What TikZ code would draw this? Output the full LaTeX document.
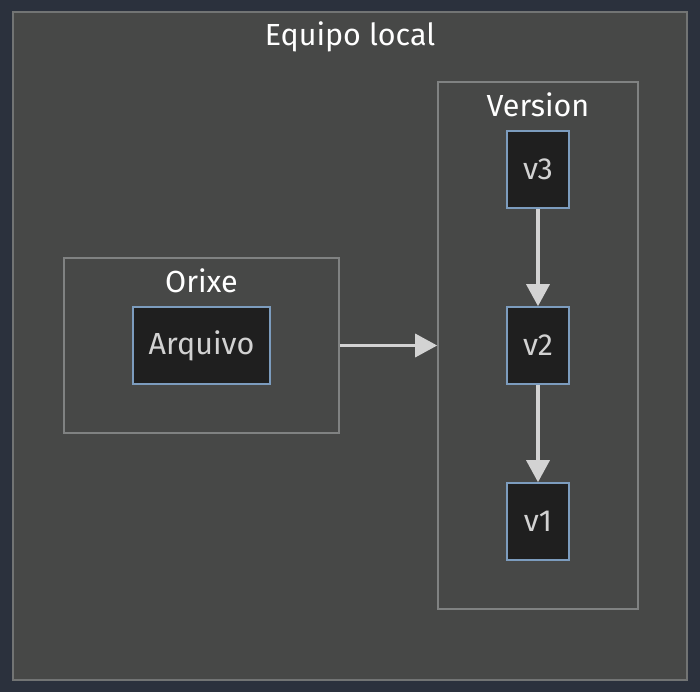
\documentclass[tikz,border=0pt]{standalone}
\usepackage{fontspec}
\setmainfont{Fira Sans}
\usetikzlibrary{arrows.meta}

\definecolor{bgnavy}{HTML}{2B313D}
\definecolor{clfill}{HTML}{474847}
\definecolor{clline}{HTML}{727474}
\definecolor{nodefill}{HTML}{1F1F1F}
\definecolor{nodeline}{HTML}{7C9CBE}
\definecolor{nodetext}{HTML}{D2D2D2}
\definecolor{arrline}{HTML}{D3D3D3}

\tikzset{
  cluster/.style={draw=clline, fill=clfill, line width=1.6pt, inner sep=0pt},
  title/.style={text=white, font=\fontsize{30.5}{34}\selectfont},
  vbox/.style={draw=nodeline, fill=nodefill, line width=1.6pt, text=nodetext,
    font=\fontsize{30.5}{34}\selectfont, minimum height=77pt, inner sep=0pt},
  arr/.style={draw=arrline, line width=3.4pt, -{Triangle[length=22pt,width=23pt]}}
}

\begin{document}
\begin{tikzpicture}[x=1pt,y=-1pt]
  % Background
  \fill[bgnavy] (0,0) rectangle (700,692);

  % Clusters
  \node[cluster, minimum width=674pt, minimum height=668pt] (local) at (350,346) {};
  \node[title] (localT) at (350,37) {Equipo local};
  \node[cluster, draw=clline!90!white, minimum width=275pt, minimum height=175pt] (orixe) at (201.5,345.5) {};
  \node[title] (orixeT) at (201.5,281) {Orixe};
  \node[cluster, draw=clline!90!white, minimum width=200pt, minimum height=527pt] (version) at (538,345.5) {};
  \node[title] (versionT) at (538,105) {Version};

  % Nodes
  \node[vbox, minimum width=137pt] (arquivo) at (201.5,345.5) {Arquivo};
  \foreach \v/\y in {3/169.5, 2/345.5, 1/521.5}
    \node[vbox, minimum width=62pt] (v\v) at (538,\y) {v\v};

  % Arrows
  \draw[arr] (orixe.east) -- (version.west);
  \draw[arr] (v3.south) -- (v2.north);
  \draw[arr] (v2.south) -- (v1.north);
\end{tikzpicture}
\end{document}
